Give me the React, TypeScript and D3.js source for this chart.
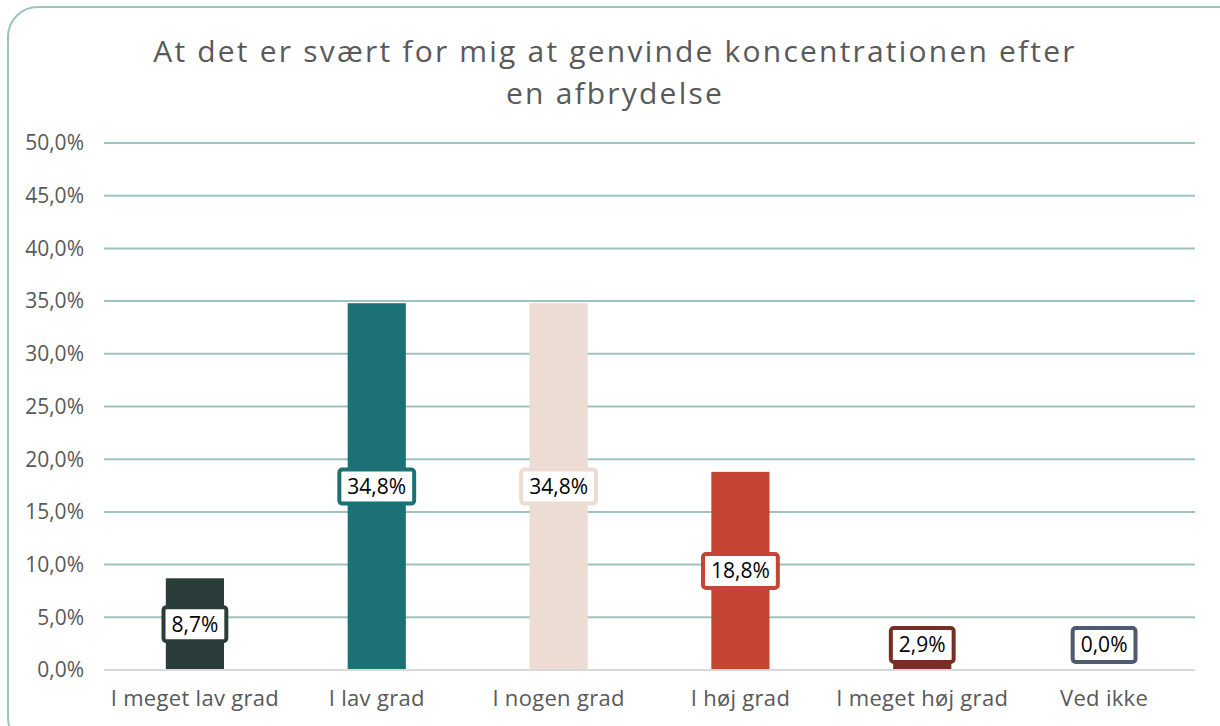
import React, { useRef, useEffect } from 'react';
import * as d3 from 'd3';

// data
const categories = ['I meget lav grad', 'I lav grad', 'I nogen grad', 'I høj grad', 'I meget høj grad', 'Ved ikke'];
const values = [8.7, 34.8, 34.8, 18.8, 2.9, 0.0];
const barColors = ['#2a3d3a', '#1b7175', '#ecdcd4', '#c44536', '#772e25', '#4f5a6f'];
const yTicks = [0, 5, 10, 15, 20, 25, 30, 35, 40, 45, 50];
const titleLines = ['At det er svært for mig at genvinde koncentrationen efter', 'en afbrydelse'];

const W = 1220;
const H = 726;
const FONT = '"Open Sans", "DejaVu Sans", sans-serif';

const App = () => {
    const svgRef = useRef<SVGSVGElement>(null);

    useEffect(() => {
        const svg = d3.select(svgRef.current);
        svg.selectAll('*').remove();

        const fmt = (v: number) => v.toFixed(1).replace('.', ',') + '%';

        // frame
        svg.append('rect')
            .attr('x', 8).attr('y', 7)
            .attr('width', 1240).attr('height', 740)
            .attr('rx', 30)
            .attr('fill', '#ffffff')
            .attr('stroke', '#9cc4bf')
            .attr('stroke-width', 2);

        // title
        const title = svg.append('text')
            .attr('text-anchor', 'middle')
            .attr('fill', '#595959')
            .style('font-family', FONT)
            .style('font-size', '30px')
            .style('letter-spacing', '2.2px');
        titleLines.forEach((t, i) => {
            title.append('tspan').attr('x', 615).attr('y', 62 + i * 42).text(t);
        });

        const x = d3.scaleBand()
            .domain(categories)
            .range([104, 1195])
            .paddingInner(0.68)
            .paddingOuter(0.34);

        const y = d3.scaleLinear()
            .domain([0, 50])
            .range([670, 143]);

        // gridlines
        svg.append('g')
            .selectAll('line')
            .data(yTicks.filter(d => d > 0))
            .enter()
            .append('line')
            .attr('x1', 104).attr('x2', 1195)
            .attr('y1', d => y(d)).attr('y2', d => y(d))
            .attr('stroke', '#9cc4bf')
            .attr('stroke-width', 2);

        // y tick labels
        svg.append('g')
            .selectAll('text')
            .data(yTicks)
            .enter()
            .append('text')
            .attr('x', 84)
            .attr('y', d => y(d))
            .attr('dy', '0.35em')
            .attr('text-anchor', 'end')
            .attr('fill', '#595959')
            .style('font-family', FONT)
            .style('font-size', '21px')
            .text(d => fmt(d));

        // bars
        svg.append('g')
            .selectAll('rect')
            .data(values)
            .enter()
            .append('rect')
            .attr('x', (d, i) => x(categories[i])!)
            .attr('y', d => y(d))
            .attr('width', x.bandwidth())
            .attr('height', d => y(0) - y(d))
            .attr('fill', (d, i) => barColors[i]);

        // baseline
        svg.append('line')
            .attr('x1', 104).attr('x2', 1195)
            .attr('y1', y(0)).attr('y2', y(0))
            .attr('stroke', '#d9d9d9')
            .attr('stroke-width', 2);

        // category labels
        svg.append('g')
            .selectAll('text')
            .data(categories)
            .enter()
            .append('text')
            .attr('x', d => x(d)! + x.bandwidth() / 2)
            .attr('y', 706)
            .attr('text-anchor', 'middle')
            .attr('fill', '#595959')
            .style('font-family', FONT)
            .style('font-size', '22px')
            .style('letter-spacing', '0.3px')
            .text(d => d);

        // value labels
        const labels = svg.append('g')
            .selectAll('g')
            .data(values)
            .enter()
            .append('g')
            .attr('transform', (d, i) => {
                const cx = x(categories[i])! + x.bandwidth() / 2;
                const cy = Math.min(y(d / 2), y(0) - 25);
                return `translate(${cx},${cy})`;
            });

        labels.append('text')
            .attr('text-anchor', 'middle')
            .attr('dy', '0.35em')
            .attr('fill', '#000000')
            .style('font-family', FONT)
            .style('font-size', '21px')
            .text(d => fmt(d));

        labels.each(function (d, i) {
            const g = d3.select(this);
            const bb = (g.select('text').node() as SVGTextElement).getBBox();
            g.insert('rect', 'text')
                .attr('x', bb.x - 8)
                .attr('y', -17)
                .attr('width', bb.width + 16)
                .attr('height', 34)
                .attr('rx', 3)
                .attr('fill', '#ffffff')
                .attr('stroke', barColors[i])
                .attr('stroke-width', 4);
        });
    }, []);

    return <svg ref={svgRef} width={W} height={H} style={{ position: 'absolute', left: 0, top: 0 }} />;
};

export default App;
